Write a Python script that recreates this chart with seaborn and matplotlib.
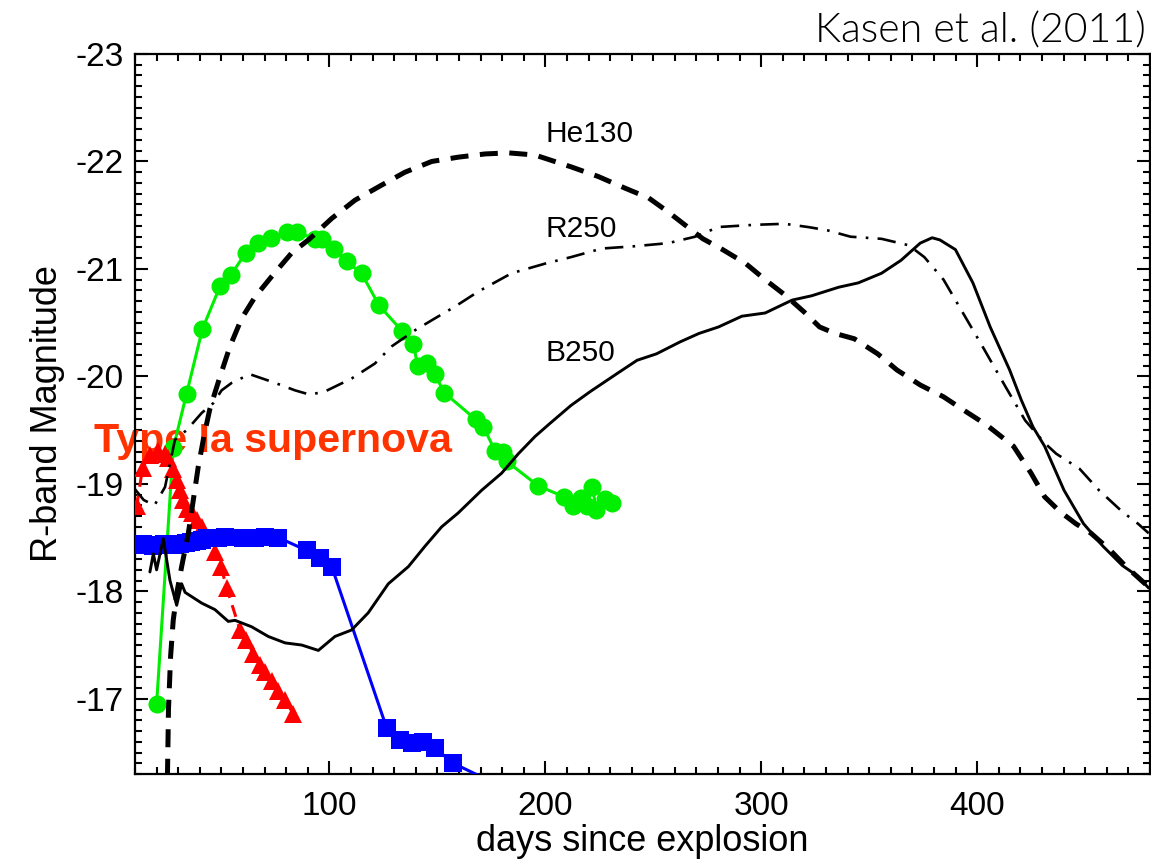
import matplotlib
matplotlib.use("Agg")
import matplotlib.pyplot as plt
from matplotlib.ticker import MultipleLocator
import seaborn as sns

# ---------------- data ----------------
# Observed SN (green circles)
green_days = [20.0, 27.7, 33.9, 41.2, 49.4, 54.3, 61.3, 67.1, 73.0, 80.2, 85.2, 93.4, 96.4,
              102.1, 108.0, 114.9, 123.0, 133.8, 138.9, 140.9, 145.3, 148.9, 153.1, 167.7,
              171.3, 176.7, 180.6, 182.1, 196.8, 208.7, 212.8, 216.4, 219.1, 221.8, 223.6,
              227.5, 230.7]
green_mag = [-16.95, -19.33, -19.84, -20.44, -20.84, -20.94, -21.15, -21.24, -21.29, -21.34,
             -21.34, -21.28, -21.28, -21.19, -21.07, -20.96, -20.66, -20.42, -20.30, -20.10,
             -20.12, -20.02, -19.85, -19.60, -19.53, -19.31, -19.30, -19.21, -18.98, -18.88,
             -18.79, -18.87, -18.79, -18.97, -18.76, -18.86, -18.82]

# Type Ia supernova (red triangles)
red_days = [10.8, 13.5, 16.9, 20.8, 23.9, 25.4, 27.7, 29.3, 30.8, 32.0, 33.9, 36.2, 38.6,
            40.9, 47.0, 49.8, 52.5, 58.6, 61.5, 64.8, 67.9, 70.2, 73.3, 76.4, 79.5, 83.3]
red_mag = [-18.79, -19.15, -19.27, -19.31, -19.28, -19.24, -19.14, -19.04, -18.94, -18.85,
           -18.77, -18.73, -18.66, -18.60, -18.37, -18.23, -18.03, -17.64, -17.55, -17.42,
           -17.31, -17.25, -17.17, -17.07, -16.99, -16.86]

# Observed SN (blue squares)
blue_days = [11.0, 13.5, 16.0, 18.5, 21.0, 23.5, 26.0, 28.5, 31.0, 33.5, 36.0, 38.5, 41.0,
             43.5, 46.0, 48.5, 51.5, 60.1, 65.6, 70.2, 76.4, 89.5, 95.7, 101.1, 126.5, 132.7,
             138.1, 143.5, 148.9, 157.4, 180.0]
blue_mag = [-18.43, -18.44, -18.43, -18.42, -18.43, -18.44, -18.44, -18.43, -18.44, -18.45,
            -18.46, -18.47, -18.48, -18.50, -18.50, -18.50, -18.51, -18.50, -18.50, -18.51,
            -18.50, -18.38, -18.31, -18.23, -16.73, -16.62, -16.59, -16.60, -16.54, -16.40,
            -16.18]

# Model B250 (solid)
b250_days = [16.9, 18.5, 20.0, 23.1, 26.2, 29.3, 31.6, 33.2, 40.9, 47.0, 53.2, 56.3, 64.0,
             71.7, 79.5, 87.2, 94.9, 102.6, 110.3, 118.0, 127.3, 136.6, 144.3, 152.0, 159.7,
             170.5, 179.8, 187.5, 195.2, 202.0, 211.9, 220.9, 233.5, 242.5, 251.5, 262.3,
             271.2, 280.2, 291.0, 301.8, 314.3, 323.3, 335.9, 344.9, 355.7, 364.7, 373.6,
             379.1, 382.7, 389.9, 398.0, 406.0, 415.0, 420.4, 425.8, 431.2, 440.2, 449.2,
             458.2, 467.2, 474.4, 479.4]
b250_mag = [-18.18, -18.35, -18.20, -18.49, -18.10, -17.87, -18.07, -17.99, -17.89, -17.83,
            -17.72, -17.73, -17.67, -17.58, -17.52, -17.50, -17.45, -17.58, -17.64, -17.80,
            -18.07, -18.23, -18.42, -18.60, -18.73, -18.94, -19.10, -19.28, -19.44, -19.56,
            -19.73, -19.86, -20.03, -20.15, -20.21, -20.32, -20.40, -20.46, -20.56, -20.59,
            -20.71, -20.75, -20.83, -20.87, -20.96, -21.08, -21.24, -21.29, -21.27, -21.18,
            -20.87, -20.46, -20.06, -19.78, -19.53, -19.35, -18.94, -18.63, -18.42, -18.24,
            -18.14, -18.03]

# Model He130 (dashed)
he130_days = [24.8, 25.2, 25.5, 26.5, 27.7, 29.5, 31.6, 34.7, 39.3, 42.0, 44.7, 49.4, 54.0,
              59.4, 65.6, 73.3, 82.6, 90.3, 101.1, 111.9, 124.2, 135.0, 147.4, 159.7, 172.1,
              182.9, 195.2, 211.9, 224.5, 237.1, 247.9, 256.9, 265.9, 273.0, 282.1, 292.8,
              301.8, 310.8, 319.8, 327.0, 334.1, 343.1, 353.9, 362.8, 373.6, 384.4, 393.4,
              404.2, 416.8, 424.9, 431.2, 438.4, 445.6, 452.7, 461.7, 468.9, 479.4]
he130_mag = [-16.0, -16.5, -16.9, -17.4, -17.73, -18.0, -18.23, -18.54, -19.16, -19.45,
             -19.70, -20.00, -20.28, -20.54, -20.74, -20.93, -21.15, -21.27, -21.47, -21.64,
             -21.78, -21.90, -22.00, -22.04, -22.07, -22.08, -22.06, -21.95, -21.86, -21.75,
             -21.66, -21.53, -21.39, -21.28, -21.18, -21.05, -20.90, -20.76, -20.60, -20.46,
             -20.40, -20.35, -20.21, -20.06, -19.92, -19.81, -19.69, -19.55, -19.35, -19.10,
             -18.88, -18.74, -18.63, -18.54, -18.38, -18.23, -18.04]

# Model R250 (dash-dot)
r250_days = [10.0, 14.0, 19.0, 23.9, 28.5, 33.9, 40.9, 46.2, 50.1, 54.8, 63.2, 74.8, 84.1,
             91.0, 98.0, 110.3, 121.1, 128.9, 139.7, 148.9, 158.2, 169.0, 184.4, 200.0,
             211.9, 226.2, 240.7, 256.9, 269.4, 280.2, 296.4, 310.8, 321.6, 330.5, 341.3,
             355.7, 368.3, 375.5, 384.4, 393.4, 402.4, 413.2, 422.2, 431.2, 436.6, 447.4,
             456.4, 467.2, 474.4, 479.4]
r250_mag = [-18.95, -18.85, -18.80, -18.97, -19.41, -19.50, -19.66, -19.75, -19.87, -19.94,
            -20.02, -19.94, -19.87, -19.83, -19.86, -19.98, -20.12, -20.28, -20.43, -20.54,
            -20.65, -20.79, -20.96, -21.05, -21.11, -21.19, -21.21, -21.24, -21.30, -21.39,
            -21.41, -21.42, -21.39, -21.36, -21.30, -21.28, -21.22, -21.11, -20.90, -20.59,
            -20.28, -19.90, -19.59, -19.38, -19.28, -19.14, -18.94, -18.74, -18.63, -18.54]

model_labels = ["He130", "R250", "B250"]
model_label_pos = [(200.3, -22.18), (200.3, -21.30), (200.3, -20.14)]

x_label = "days since explosion"
y_label = "R-band Magnitude"
credit = "Kasen et al. (2011)"
ia_label = "Type Ia supernova"

# ---------------- style ----------------
sns.set_theme(style="ticks")
plt.rcParams["font.family"] = ["Liberation Sans", "DejaVu Sans"]
plt.rcParams["axes.unicode_minus"] = False
plt.rcParams["text.color"] = "black"

W, H = 1151, 866
fig = plt.figure(figsize=(W / 100, H / 100), dpi=100)
ax = fig.add_axes([135 / W, 1 - 774 / H, (1150 - 135) / W, (774 - 54) / H])

GREEN = "#00EE00"
RED = "#FF0000"
BLUE = "#0000FF"

common = dict(ax=ax, sort=False, estimator=None, legend=False)

sns.lineplot(x=green_days, y=green_mag, color=GREEN, lw=2.2, marker="o", markersize=13,
             markeredgewidth=0, zorder=3, **common)
sns.lineplot(x=red_days, y=red_mag, color=RED, lw=2.2, dashes=(4, 2.5), marker="^",
             markersize=13.5, markeredgewidth=0, zorder=3, **common)
sns.lineplot(x=blue_days, y=blue_mag, color=BLUE, lw=2.2, marker="s", markersize=13,
             markeredgewidth=0, zorder=3, **common)

sns.lineplot(x=b250_days, y=b250_mag, color="black", lw=2.1, zorder=4, **common)
sns.lineplot(x=he130_days, y=he130_mag, color="black", lw=3.6, dashes=(3.6, 2.3), zorder=4,
             **common)
sns.lineplot(x=r250_days, y=r250_mag, color="black", lw=1.9, dashes=(7, 3.5, 1, 3.5),
             zorder=4, **common)

for lab, (xx, yy) in zip(model_labels, model_label_pos):
    ax.text(xx, yy, lab, fontsize=21.5, ha="left", va="baseline", color="black", zorder=5)

ax.text(-8.8, -19.30, ia_label, fontsize=29.6, fontweight="bold", color="#FF3300",
        ha="left", va="baseline", clip_on=False, zorder=1)

fig.text(1146 / W, 1 - 43 / H, credit, fontsize=29.5, ha="right", va="baseline",
         family=["Lato", "Liberation Sans", "DejaVu Sans"], fontweight=300,
         color="black")

ax.set_xlim(10, 480)
ax.set_ylim(-16.3, -23)
ax.xaxis.set_major_locator(MultipleLocator(100))
ax.xaxis.set_minor_locator(MultipleLocator(10))
ax.yaxis.set_major_locator(MultipleLocator(1))
ax.yaxis.set_minor_locator(MultipleLocator(0.1))
ax.tick_params(which="both", direction="in", top=True, right=True, width=1.5, color="black")
ax.tick_params(which="major", length=9.5, labelsize=24, labelcolor="black")
ax.tick_params(axis="x", which="major", pad=12)
ax.tick_params(axis="y", which="major", pad=8)
ax.tick_params(which="minor", length=5)
for s in ax.spines.values():
    s.set_linewidth(1.6)
    s.set_color("black")

ax.set_xlabel(x_label, fontsize=26, labelpad=2, color="black")
ax.set_ylabel(y_label, fontsize=26, labelpad=8, color="black")
ax.set_facecolor("white")
fig.patch.set_facecolor("white")

fig.savefig("out.png", dpi=100)
